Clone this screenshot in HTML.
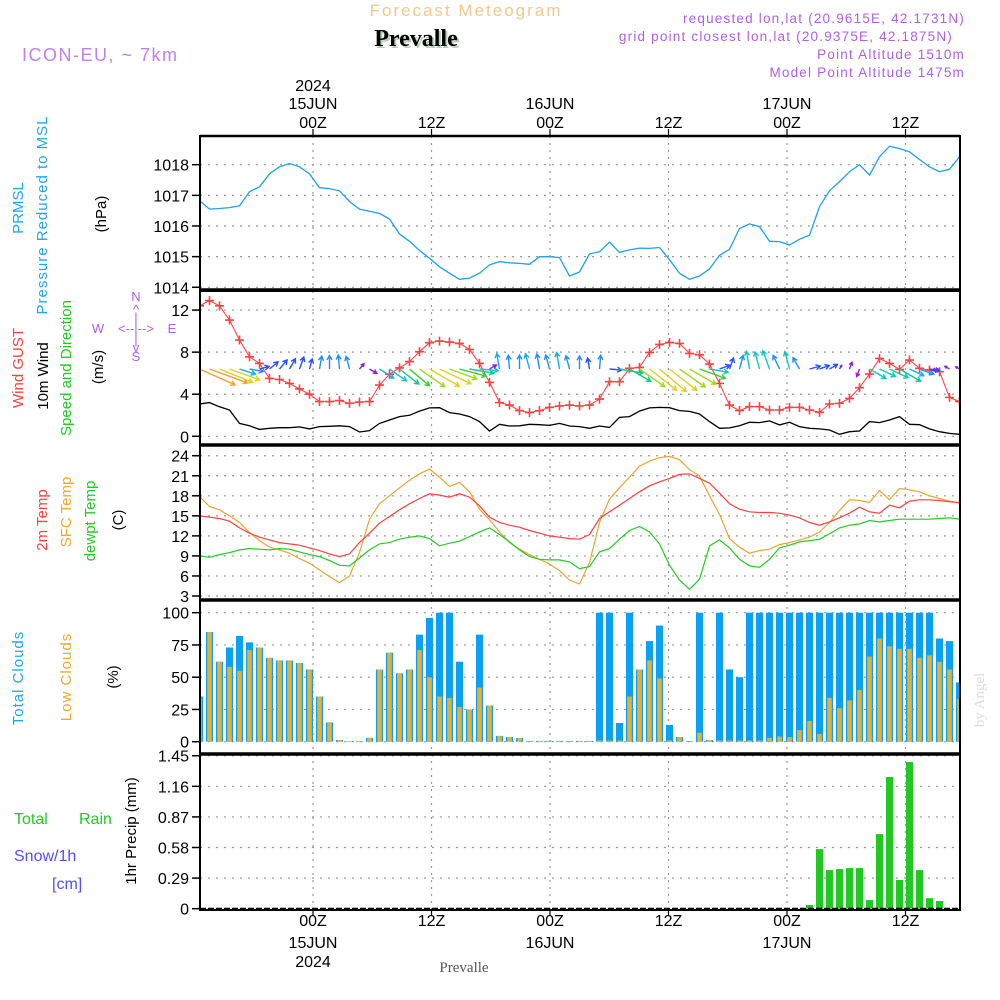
<!DOCTYPE html>
<html><head><meta charset="utf-8">
<style>
html,body{margin:0;padding:0;background:#fff;}
svg{display:block;font-family:"Liberation Sans",sans-serif;}
</style></head>
<body>
<svg id="chart" width="1000" height="1000" viewBox="0 0 1000 1000" xmlns="http://www.w3.org/2000/svg">
<defs><clipPath id="plotclip"><rect x="200" y="130" width="760" height="785"/></clipPath></defs>
<rect x="0" y="0" width="1000" height="1000" fill="#fff"/>
<text x="466" y="16" text-anchor="middle" font-size="17" fill="#f2c98c" letter-spacing="2">Forecast Meteogram</text>
<text x="418" y="48" text-anchor="middle" font-size="24" font-weight="bold" font-family="Liberation Serif, serif" fill="#b8ccb8">Prevalle</text>
<text x="416" y="46" text-anchor="middle" font-size="24" font-weight="bold" font-family="Liberation Serif, serif" fill="#000">Prevalle</text>
<text x="22" y="61" font-size="18" fill="#c080f0" letter-spacing="1.5">ICON-EU, ~ 7km</text>
<g font-size="13.5" fill="#b060e8" text-anchor="end" letter-spacing="1.2">
<text x="965" y="23">requested lon,lat (20.9615E, 42.1731N)</text>
<text x="953" y="41">grid point closest lon,lat (20.9375E, 42.1875N)</text>
<text x="965" y="59">Point Altitude 1510m</text>
<text x="965" y="77">Model Point Altitude 1475m</text>
</g>
<g id="grid"></g>
<g id="marks" clip-path="url(#plotclip)"></g>
<g id="frames"></g>
<g id="axes"></g>

<g font-size="15">
<text transform="translate(23,208) rotate(-90)" text-anchor="middle" fill="#1fa8f0">PRMSL</text>
<text transform="translate(47,215) rotate(-90)" text-anchor="middle" fill="#1fa8f0" letter-spacing="1">Pressure Reduced to MSL</text>
<text transform="translate(106,214) rotate(-90)" text-anchor="middle" fill="#000">(hPa)</text>
</g>
<g font-size="15">
<text transform="translate(23,368) rotate(-90)" text-anchor="middle" fill="#ff4040">Wind GUST</text>
<text transform="translate(48,376) rotate(-90)" text-anchor="middle" fill="#000">10m Wind</text>
<text transform="translate(71,368) rotate(-90)" text-anchor="middle" fill="#22cc22">Speed and Direction</text>
<text transform="translate(103,367) rotate(-90)" text-anchor="middle" fill="#000">(m/s)</text>
<g font-size="13" fill="#b060e8" text-anchor="middle">
<text x="136" y="301">N</text><text x="136" y="314">^</text><text x="136" y="322">|</text>
<text x="98" y="333">W</text><text x="136" y="333">&lt;--|--&gt;</text><text x="172" y="333">E</text>
<text x="136" y="344">|</text><text x="136" y="352">v</text><text x="136" y="361">S</text>
</g>
</g>
<g font-size="15">
<text transform="translate(47,520) rotate(-90)" text-anchor="middle" fill="#ff4040">2m Temp</text>
<text transform="translate(71,512) rotate(-90)" text-anchor="middle" fill="#f0a830">SFC Temp</text>
<text transform="translate(95,521) rotate(-90)" text-anchor="middle" fill="#22cc22">dewpt Temp</text>
<text transform="translate(123,520) rotate(-90)" text-anchor="middle" fill="#000">(C)</text>
</g>
<g font-size="15">
<text transform="translate(23,678) rotate(-90)" text-anchor="middle" fill="#1fa8f0" letter-spacing="1">Total Clouds</text>
<text transform="translate(71,677) rotate(-90)" text-anchor="middle" fill="#f0a830" letter-spacing="1">Low Clouds</text>
<text transform="translate(118,677) rotate(-90)" text-anchor="middle" fill="#000">(%)</text>
</g>
<g font-size="16">
<text x="14" y="824" fill="#22cc22">Total</text>
<text x="79" y="824" fill="#22cc22">Rain</text>
<text x="14" y="861" fill="#5050ff">Snow/1h</text>
<text x="52" y="889" fill="#5050ff">[cm]</text>
<text transform="translate(136,831) rotate(-90)" text-anchor="middle" fill="#000" font-size="15">1hr Precip (mm)</text>
</g>
<text transform="translate(984,700) rotate(-90)" text-anchor="middle" font-size="15" font-family="Liberation Serif, serif" fill="#d8e0d8">by Angel</text>
<text x="464" y="972" text-anchor="middle" font-size="15" font-family="Liberation Serif, serif" fill="#555">Prevalle</text>
</svg>
<script>
// ---- data (hourly, hour 0 = 00Z 15JUN) ----
const hours = [-11,-10,-9,-8,-7,-6,-5,-4,-3,-2,-1,0,1,2,3,4,5,6,7,8,9,10,11,12,13,14,15,16,17,18,19,20,21,22,23,24,25,26,27,28,29,30,31,32,33,34,35,36,37,38,39,40,41,42,43,44,45,46,47,48,49,50,51,52,53,54,55,56,57,58,59,60,61,62,63,64,65];
const pressure = [1016.83,1016.55,1016.57,1016.6,1016.66,1017.12,1017.28,1017.7,1017.93,1018.04,1017.93,1017.7,1017.25,1017.22,1017.15,1016.8,1016.55,1016.48,1016.41,1016.23,1015.74,1015.5,1015.2,1014.95,1014.67,1014.46,1014.26,1014.3,1014.46,1014.73,1014.84,1014.8,1014.78,1014.75,1015.0,1015.0,1014.97,1014.37,1014.5,1015.09,1015.16,1015.47,1015.14,1015.22,1015.28,1015.27,1015.3,1014.9,1014.46,1014.26,1014.37,1014.6,1015.04,1015.24,1015.92,1016.07,1015.98,1015.5,1015.49,1015.38,1015.57,1015.7,1016.63,1017.15,1017.45,1017.77,1018.0,1017.66,1018.26,1018.6,1018.53,1018.42,1018.17,1017.93,1017.77,1017.85,1018.26];
const gust = [12.4,12.9,12.4,11.05,9.15,7.56,6.93,5.5,5.4,5.03,4.5,4.0,3.3,3.3,3.4,3.13,3.26,3.3,4.87,5.9,6.5,7.1,8.04,8.9,9.05,8.96,8.83,8.26,6.93,5.13,3.2,2.97,2.44,2.25,2.44,2.75,2.88,2.97,2.88,2.97,3.54,5.19,5.19,6.46,6.55,7.97,8.73,8.92,8.83,7.88,7.75,6.87,5.03,2.97,2.44,2.82,2.82,2.5,2.5,2.75,2.75,2.5,2.28,3.07,3.13,3.6,4.62,5.92,7.4,6.93,6.36,7.25,6.46,6.3,6.14,3.7,3.3];
const windSpeed = [3.07,3.2,2.8,2.5,1.23,1.0,0.66,0.76,0.82,0.82,0.89,0.7,0.92,0.95,1.0,0.92,0.41,0.54,1.23,1.55,1.87,2.0,2.4,2.7,2.72,2.25,2.12,1.87,1.4,0.5,1.14,0.98,1.0,1.14,1.1,1.04,1.23,0.98,0.92,0.76,0.98,0.85,1.8,1.87,2.4,2.7,2.75,2.72,2.44,2.37,2.12,1.4,0.76,0.8,1.0,1.33,1.3,1.46,1.08,1.33,0.92,0.76,0.7,0.6,0.19,0.44,0.5,1.4,1.3,1.55,1.87,1.14,1.1,0.7,0.44,0.28,0.19];
const windDir = [114,110,112,110,108,100,75,50,40,30,20,15,10,0,355,345,40,120,123,125,128,130,125,120,115,110,105,100,95,60,350,355,0,345,350,345,350,345,0,350,5,95,100,120,125,128,130,128,125,120,110,100,70,20,15,350,345,340,335,345,330,75,70,60,30,20,200,120,115,115,120,115,110,100,260,300,300];
const t2m = [15.0,14.8,14.6,14.2,13.2,12.4,11.8,11.4,11.0,10.8,10.6,10.2,9.8,9.3,8.9,9.3,11.0,12.4,13.9,14.9,15.9,16.8,17.6,18.3,18.1,17.8,18.3,17.8,16.5,14.8,14.0,13.6,13.3,12.8,12.4,12.0,11.8,11.6,11.5,12.2,14.6,15.6,16.6,17.6,18.6,19.5,20.1,20.6,21.2,21.3,20.6,19.9,18.4,16.8,16.0,15.6,15.5,15.5,15.4,15.1,14.7,14.0,13.6,14.1,14.7,15.4,16.3,15.6,15.4,16.6,16.2,17.2,17.4,17.4,17.3,17.1,17.0];
const sfcTemp = [17.9,16.4,15.9,15.0,14.0,12.5,11.3,10.3,9.9,9.4,8.6,7.9,6.9,5.9,5.0,6.0,9.5,14.5,16.8,18.0,19.2,20.3,21.3,22.0,20.8,19.4,20.0,18.6,16.0,14.4,12.6,11.0,10.0,9.2,8.5,7.8,6.8,5.4,4.8,8.0,14.0,17.5,19.2,20.8,22.4,23.2,23.7,23.9,23.4,21.9,21.0,18.0,15.2,11.6,10.3,9.4,9.8,10.0,10.7,11.0,11.4,11.8,12.6,14.0,15.8,17.4,17.3,17.0,18.8,17.4,19.1,18.9,18.6,18.0,17.6,17.2,16.9];
const dewpt = [9.0,8.8,9.2,9.5,9.9,10.1,10.0,9.9,10.1,10.0,9.6,9.2,8.9,8.3,7.6,7.5,8.7,9.9,10.8,11.0,11.5,11.8,12.0,11.6,10.5,10.9,11.2,11.9,12.6,13.2,12.2,11.1,9.9,8.9,8.5,8.4,8.4,8.1,7.1,7.4,9.6,10.1,11.5,12.8,13.4,12.6,10.8,7.6,5.4,4.0,5.5,10.5,11.4,10.2,8.5,7.5,7.3,8.5,10.2,10.6,11.1,11.3,11.5,12.3,13.2,13.6,13.8,14.3,14.1,14.3,14.5,14.5,14.5,14.5,14.6,14.7,14.5];
const totalClouds = [35,85,62,73,82,77,73,65,63,63,61,56,35,15,1.3,0.3,0.5,3,56,69,53,56,83,96,100,100,62,25,83,28,4.5,3.6,2.8,0.6,0.6,0.6,0.6,0.6,0.6,0.6,100,100,14.5,100,56,78,90,13,3.6,0.5,100,1.3,100,56,50,100,100,100,100,100,100,100,100,100,100,100,100,100,100,100,100,100,100,100,80,78,46];
const lowClouds = [34,85,62,58,55,71,73,65,63,63,61,56,35,15,1.3,0.2,0.5,3,56,69,53,56,71,50,35,34,27,25,42,28,4.4,3.6,2.8,0.5,0.5,0.5,0.5,0.5,0.5,0.5,1,1,1,35,56,63,49,1,3.6,0.3,7,1.3,1,1,1,1,1,3,4,3.6,9,16,6,34,26,32,40,66,80,74,72,72,65,67,62,56,33];
const precipHours = [50,51,52,53,54,55,56,57,58,59,60,61,62,63];
const precipValues = [0.035,0.565,0.366,0.376,0.385,0.385,0.082,0.707,1.248,0.272,1.39,0.366,0.10,0.073];
const pressureTicks = [1014,1015,1016,1017,1018];
const windTicks = [0,4,8,12];
const tempTicks = [3,6,9,12,15,18,21,24];
const cloudTicks = [0,25,50,75,100];
const precipTicks = [0,0.29,0.58,0.87,1.16,1.45];
const timeTicks = [0,12,24,36,48,60];
const timeHourLabels = ['00Z','12Z','00Z','12Z','00Z','12Z'];
const timeDayLabels = ['15JUN','','16JUN','','17JUN',''];

const NS='http://www.w3.org/2000/svg';
const xData = h => 309.5 + 10*h;
const xGrid = h => 313 + 9.875*h;
const X0=200, X1=960;
const panels = {
  p:{top:136,bot:290,y:v=>287.3-(v-1014)*30.65},
  w:{top:291,bot:445,y:v=>436.3-v*10.52},
  t:{top:445,bot:600,y:v=>596-(v-3)*6.68},
  c:{top:600,bot:754,y:v=>741.7-v*1.29},
  r:{top:754,bot:910,y:v=>908.7-v*105.5}
};
function el(tag, attrs, parent){const e=document.createElementNS(NS,tag);for(const k in attrs)e.setAttribute(k,attrs[k]);parent.appendChild(e);return e;}
const G=document.getElementById('grid'), M=document.getElementById('marks'), F=document.getElementById('frames'), A=document.getElementById('axes');

for (const k in panels){
  const P=panels[k];
  timeTicks.forEach(h=>{
    const l=el('line',{x1:xGrid(h),x2:xGrid(h),y1:P.top,y2:P.bot,stroke:'#999','stroke-width':1.2,'stroke-dasharray':'2,5'},G);
    
    
  });
}
function hgrid(P,ticks,fmt,name){
  ticks.forEach(v=>{
    const y=P.y(v);
    const l=el('line',{x1:X0,x2:X1,y1:y,y2:y,stroke:'#999','stroke-width':1.2,'stroke-dasharray':'2,6'},G);
    
    
    el('line',{x1:192,x2:X0,y1:y,y2:y,stroke:'#000','stroke-width':1.5},A);
    const t=el('text',{x:189,y:y+6,'text-anchor':'end','font-size':16,fill:'#000'},A);
    t.textContent=fmt(v);
    
    
  });
}
hgrid(panels.p,pressureTicks,v=>v,'pressure');
hgrid(panels.w,windTicks,v=>v,'wind');
hgrid(panels.t,tempTicks,v=>v,'temp');
hgrid(panels.c,cloudTicks,v=>v,'cloud');
hgrid(panels.r,precipTicks,v=>v,'precip');

function line(arr,P,color,w,name){
  const d=arr.map((v,i)=>(i?'L':'M')+xData(hours[i]).toFixed(1)+','+P.y(v).toFixed(1)).join('');
  const p=el('path',{d:d,fill:'none',stroke:color,'stroke-width':w},M);
  
  
}
hours.forEach((h,i)=>{
  const P=panels.c,x=xData(h);
  const b=el('rect',{x:x-3.5,y:P.y(totalClouds[i]),width:7,height:P.y(0)-P.y(totalClouds[i]),fill:'#0aa0f5'},M);
  
  
  const o=el('rect',{x:x-2.3,y:P.y(lowClouds[i]),width:4.6,height:P.y(0)-P.y(lowClouds[i]),fill:'#e8b030'},M);
  
  
});
precipHours.forEach((h,i)=>{
  const v=precipValues[i];
  const P=panels.r,x=xData(h);
  const b=el('rect',{x:x-3.5,y:P.y(v),width:7,height:P.y(0)-P.y(v),fill:'#22c822'},M);
  
  
});
line(pressure,panels.p,'#1ea0f0',1.3,'pressure-line');
line(windSpeed,panels.w,'#000',1.3,'wind-speed-line');
line(gust,panels.w,'#ff4848',1.1,'wind-gust-line');
line(sfcTemp,panels.t,'#eaa530',1.2,'sfc-temp-line');
line(t2m,panels.t,'#ff4040',1.2,'t2m-line');
line(dewpt,panels.t,'#22cc22',1.2,'dewpt-line');
gust.forEach((v,i)=>{
  const x=xData(hours[i]),y=panels.w.y(v);
  const m=el('path',{d:`M${x-4.5},${y}h9M${x},${y-4.5}v9`,stroke:'#ff4040','stroke-width':1.6},M);
  
  
});
function spdColor(s){
  if(s<0.6) return '#9020e0';
  if(s<0.9) return '#2850ff';
  if(s<1.12) return '#2090ff';
  if(s<1.3) return '#10b0f0';
  if(s<1.6) return '#10c8c0';
  if(s<1.9) return '#10c890';
  if(s<2.15) return '#30d030';
  if(s<2.45) return '#a0d820';
  if(s<2.9) return '#e0d020';
  return '#f0a030';
}
windSpeed.forEach((s,i)=>{
  const x=xData(hours[i]), y=369, L=12*s+2, a=windDir[i]*Math.PI/180;
  const dx=Math.sin(a)*L, dy=-Math.cos(a)*L, tx=x+dx, ty=y+dy;
  const ux=dx/L, uy=dy/L, hl=Math.min(5,L*0.5);
  const h1x=tx-hl*(ux*0.87-uy*0.5), h1y=ty-hl*(uy*0.87+ux*0.5);
  const h2x=tx-hl*(ux*0.87+uy*0.5), h2y=ty-hl*(uy*0.87-ux*0.5);
  const c=spdColor(s);
  const p=el('path',{d:`M${x},${y}L${tx},${ty}M${h1x},${h1y}L${tx},${ty}L${h2x},${h2y}`,fill:'none',stroke:c,'stroke-width':1.4},M);
  
  
});
for (const k in panels){
  const P=panels[k];
  el('rect',{x:X0,y:P.top,width:X1-X0,height:P.bot-P.top,fill:'none',stroke:'#000','stroke-width':2},F);
}
[290,445,600,754].forEach(y=>el('line',{x1:X0,x2:X1,y1:y,y2:y,stroke:'#000','stroke-width':3.5},F));
el('line',{x1:X0,x2:X1,y1:909,y2:909,stroke:'#000','stroke-width':2.5,'stroke-dasharray':'6,2'},F);
el('line',{x1:X0,x2:X1,y1:136,y2:136,stroke:'#000','stroke-width':2.5},F);
timeTicks.forEach((h,i)=>{
  const x=xGrid(h);
  el('line',{x1:x,x2:x,y1:129,y2:136,stroke:'#000','stroke-width':1.2},A);
  el('line',{x1:x,x2:x,y1:910,y2:916,stroke:'#000','stroke-width':1.2},A);
  const t=el('text',{x:x,y:128,'text-anchor':'middle','font-size':16},A);
  t.textContent=timeHourLabels[i];
  
  
  const b=el('text',{x:x,y:926,'text-anchor':'middle','font-size':16},A);
  b.textContent=timeHourLabels[i];
  
  
  if(timeDayLabels[i]){
    const d=el('text',{x:x,y:109,'text-anchor':'middle','font-size':16},A);
    d.textContent=timeDayLabels[i];
    
    
    const d2=el('text',{x:x,y:948,'text-anchor':'middle','font-size':16},A);
    d2.textContent=timeDayLabels[i];
    
    
  }
  if(i===0){
    const y1=el('text',{x:x,y:91,'text-anchor':'middle','font-size':16},A);
    y1.textContent='2024';
    
    
    const y2=el('text',{x:x,y:967,'text-anchor':'middle','font-size':16},A);
    y2.textContent='2024';
    
    
  }
});
</script>
</body></html>
